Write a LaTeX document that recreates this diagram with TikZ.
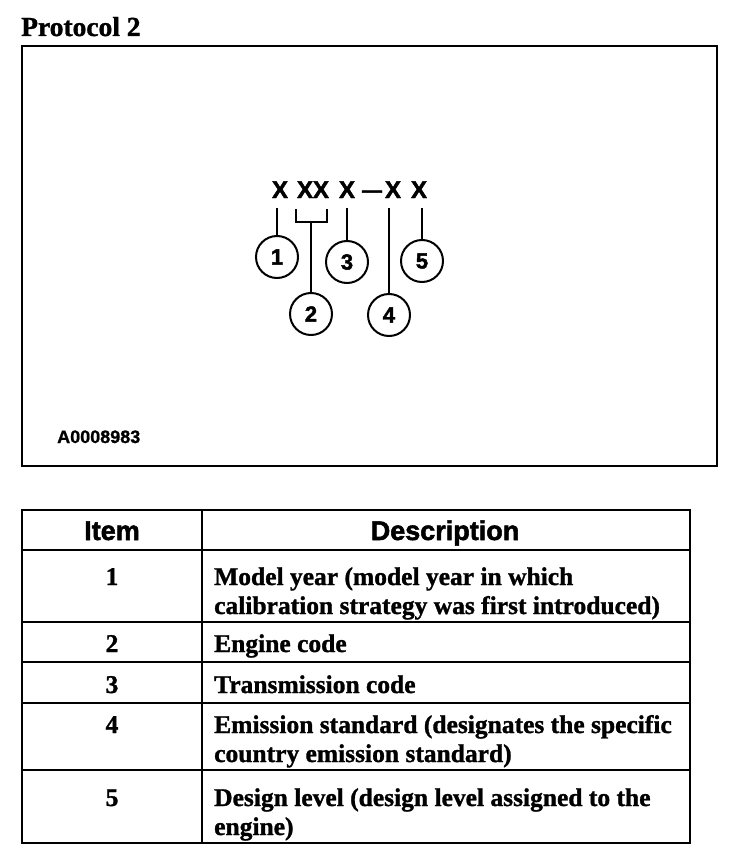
\documentclass[tikz,border=0pt]{standalone}
\usepackage{fontspec}
\setmainfont{Liberation Serif}[BoldFeatures={FakeBold=1.2}]
\newfontfamily\heavy{Liberation Sans Bold}[FakeBold=2]
\newfontfamily\sansb{Liberation Sans Bold}[FakeBold=1]
\begin{document}
\begin{tikzpicture}[x=1pt,y=-1pt,
  frame/.style={line width=2.6pt},
  grid/.style={line width=2pt},
  lead/.style={line width=1.9pt},
  codech/.style={anchor=base,inner sep=0pt,font=\heavy\fontsize{24}{24}\selectfont},
  callout/.style={circle,draw,line width=2pt,minimum size=42pt,inner sep=0pt,font=\heavy\fontsize{22}{22}\selectfont},
  body/.style={anchor=base west,inner sep=0pt,font=\bfseries\fontsize{25.5}{28}\selectfont},
  num/.style={anchor=base,inner sep=0pt,font=\bfseries\fontsize{25.5}{28}\selectfont},
  head/.style={anchor=base,inner sep=0pt,font=\heavy\fontsize{27}{27}\selectfont}]
\useasboundingbox (0,0) rectangle (752,864);
% title
\node[anchor=base west,inner sep=0pt,font=\bfseries\fontsize{27.5}{27.5}\selectfont] (title) at (21,36) {Protocol 2};
% top frame
\draw[frame] (22,46) rectangle (717,466);
% code characters
\node[codech] (x1) at (280,198) {X};
\node[codech] (x2a) at (305,198) {X};
\node[codech] (x2b) at (321,198) {X};
\node[codech] (x3) at (347,198) {X};
\node[codech,font=\heavy\fontsize{20}{20}\selectfont] (dash) at (372,197) {—};
\node[codech] (x4) at (393,198) {X};
\node[codech] (x5) at (419,198) {X};
% callouts
\node[callout] (c1) at (277,257) {1};
\node[callout] (c2) at (311,314) {2};
\node[callout] (c3) at (347,262) {3};
\node[callout] (c4) at (389,315) {4};
\node[callout] (c5) at (422,261) {5};
% leader tops
\coordinate (t1) at (277,208);
\coordinate (t2l) at (296,209);
\coordinate (t2r) at (327,209);
\coordinate (t2m) at (311,222);
\coordinate (t3) at (347,208);
\coordinate (t4) at (389,208);
\coordinate (t5) at (422,208);
\draw[lead] (t1) -- (c1.north);
\draw[lead] (t2l) -- (296,222) -- (327,222) -- (t2r);
\draw[lead] (t2m) -- (c2.north);
\draw[lead] (t3) -- (c3.north);
\draw[lead] (t4) -- (c4.north);
\draw[lead] (t5) -- (c5.north);
% figure id
\node[anchor=base west,inner sep=0pt,font=\sansb\fontsize{18}{18}\selectfont] (fid) at (57,443) {A0008983};
% table grid
\draw[grid] (22,510) rectangle (690,843);
\draw[grid] (202,510) -- (202,843);
\draw[grid] (22,550) -- (690,550);
\draw[grid] (22,622) -- (690,622);
\draw[grid] (22,662) -- (690,662);
\draw[grid] (22,703) -- (690,703);
\draw[grid] (22,770) -- (690,770);
% header
\node[head] (hitem) at (112,540) {Item};
\node[head] (hdesc) at (445,540) {Description};
% rows
\node[num] (n1) at (112,585) {1};
\node[body] (d1a) at (214,585) {Model year (model year in which};
\node[body] (d1b) at (214,614) {calibration strategy was first introduced)};
\node[num] (n2) at (112,652) {2};
\node[body] (d2) at (214,652) {Engine code};
\node[num] (n3) at (112,693) {3};
\node[body] (d3) at (214,693) {Transmission code};
\node[num] (n4) at (112,733) {4};
\node[body] (d4a) at (214,733) {Emission standard (designates the specific};
\node[body] (d4b) at (214,762) {country emission standard)};
\node[num] (n5) at (112,806) {5};
\node[body] (d5a) at (214,806) {Design level (design level assigned to the};
\node[body] (d5b) at (214,835) {engine)};
\end{tikzpicture}
\end{document}
